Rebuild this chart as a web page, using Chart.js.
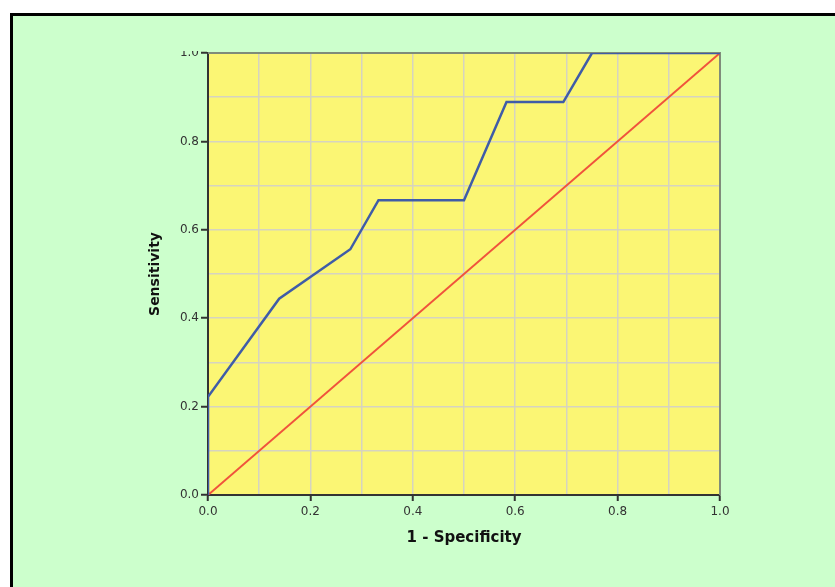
<!DOCTYPE html>
<html>
<head>
<meta charset="utf-8">
<script src="https://cdn.jsdelivr.net/npm/chart.js@4.4.1/dist/chart.umd.min.js"></script>
<style>
  html, body { margin: 0; padding: 0; background: #ffffff; width: 835px; height: 587px; overflow: hidden; }
  #frame { position: absolute; left: 10px; top: 13px; width: 900px; height: 650px; border: 3px solid #000; background: #ccffcc; }
  #wrap { position: absolute; left: 0; top: 51px; width: 835px; height: 536px; }
</style>
</head>
<body>
<div id="frame"></div>
<div id="wrap"><canvas id="c"></canvas></div>
<script>
// ROC curve data (1 - Specificity vs Sensitivity)
const fpr = [0, 0, 0.139, 0.278, 0.333, 0.5, 0.583, 0.694, 0.75, 1];
const sensitivity = [0, 0.222, 0.444, 0.556, 0.667, 0.667, 0.889, 0.889, 1, 1];
// Reference (diagonal) line
const refX = [0, 1];
const refY = [0, 1];
// Tick labels
const tickLabels = ['0.0', '0.2', '0.4', '0.6', '0.8', '1.0'];
const xTitle = '1 - Specificity';
const yTitle = 'Sensitivity';

const toPoints = (xs, ys) => xs.map((x, i) => ({ x: x, y: ys[i] }));

const plotBg = {
  id: 'plotBg',
  beforeDraw(chart) {
    const { ctx, chartArea: a } = chart;
    ctx.save();
    ctx.fillStyle = '#fbf674';
    ctx.fillRect(a.left, a.top, a.right - a.left, a.bottom - a.top);
    ctx.restore();
  },
  beforeDatasetsDraw(chart) {
    const { ctx, chartArea: a } = chart;
    ctx.save();
    ctx.strokeStyle = '#7f8c7a';
    ctx.lineWidth = 2;
    ctx.beginPath();
    ctx.moveTo(a.left, a.top);
    ctx.lineTo(a.right, a.top);
    ctx.lineTo(a.right, a.bottom);
    ctx.stroke();
    ctx.restore();
  }
};

const labelFor = (v) => {
  const i = Math.round(v * 10);
  return i % 2 === 0 ? tickLabels[i / 2] : '';
};
const tickCol = (ctx) => (Math.round(ctx.tick.value * 10) % 2 === 0 ? '#333333' : 'rgba(0,0,0,0)');

new Chart(document.getElementById('c'), {
  type: 'scatter',
  data: {
    datasets: [
      {
        data: toPoints(refX, refY),
        showLine: true,
        borderColor: '#f0533c',
        borderWidth: 2,
        pointRadius: 0,
        order: 2
      },
      {
        data: toPoints(fpr, sensitivity),
        showLine: true,
        borderColor: '#3f5ca8',
        borderWidth: 2.5,
        pointRadius: 0,
        order: 1
      }
    ]
  },
  options: {
    responsive: true,
    maintainAspectRatio: false,
    animation: false,
    events: [],
    layout: { padding: { left: 140, top: 2, right: 115, bottom: 22 } },
    plugins: { legend: { display: false }, tooltip: { enabled: false } },
    scales: {
      x: {
        type: 'linear',
        min: 0, max: 1,
        ticks: {
          stepSize: 0.1,
          autoSkip: false,
          maxRotation: 0,
          padding: 4,
          color: '#333333',
          font: { family: 'DejaVu Sans', size: 12 },
          callback: (v) => labelFor(v)
        },
        grid: {
          color: '#d6d3c0',
          lineWidth: 1.5,
          tickLength: 6,
          tickColor: tickCol,
          tickWidth: 2
        },
        border: { display: true, color: '#333333', width: 2 },
        title: {
          display: true,
          text: xTitle,
          color: '#111111',
          font: { family: 'DejaVu Sans', size: 15, weight: 'bold' },
          padding: { top: 0, bottom: 18 }
        },
        afterFit(scale) { scale.height = 70; }
      },
      y: {
        type: 'linear',
        min: 0, max: 1,
        ticks: {
          stepSize: 0.1,
          autoSkip: false,
          padding: 2,
          color: '#333333',
          font: { family: 'DejaVu Sans', size: 12 },
          callback: (v) => labelFor(v)
        },
        grid: {
          color: '#d6d3c0',
          lineWidth: 1.5,
          tickLength: 7,
          tickColor: tickCol,
          tickWidth: 2
        },
        border: { display: true, color: '#333333', width: 2 },
        title: {
          display: true,
          text: yTitle,
          color: '#111111',
          font: { family: 'DejaVu Sans', size: 14, weight: 'bold' },
          padding: { top: 7, bottom: 0 }
        },
        afterFit(scale) { scale.width = 68; scale.paddingTop = 0; }
      }
    }
  },
  plugins: [plotBg]
});
</script>
</body>
</html>
